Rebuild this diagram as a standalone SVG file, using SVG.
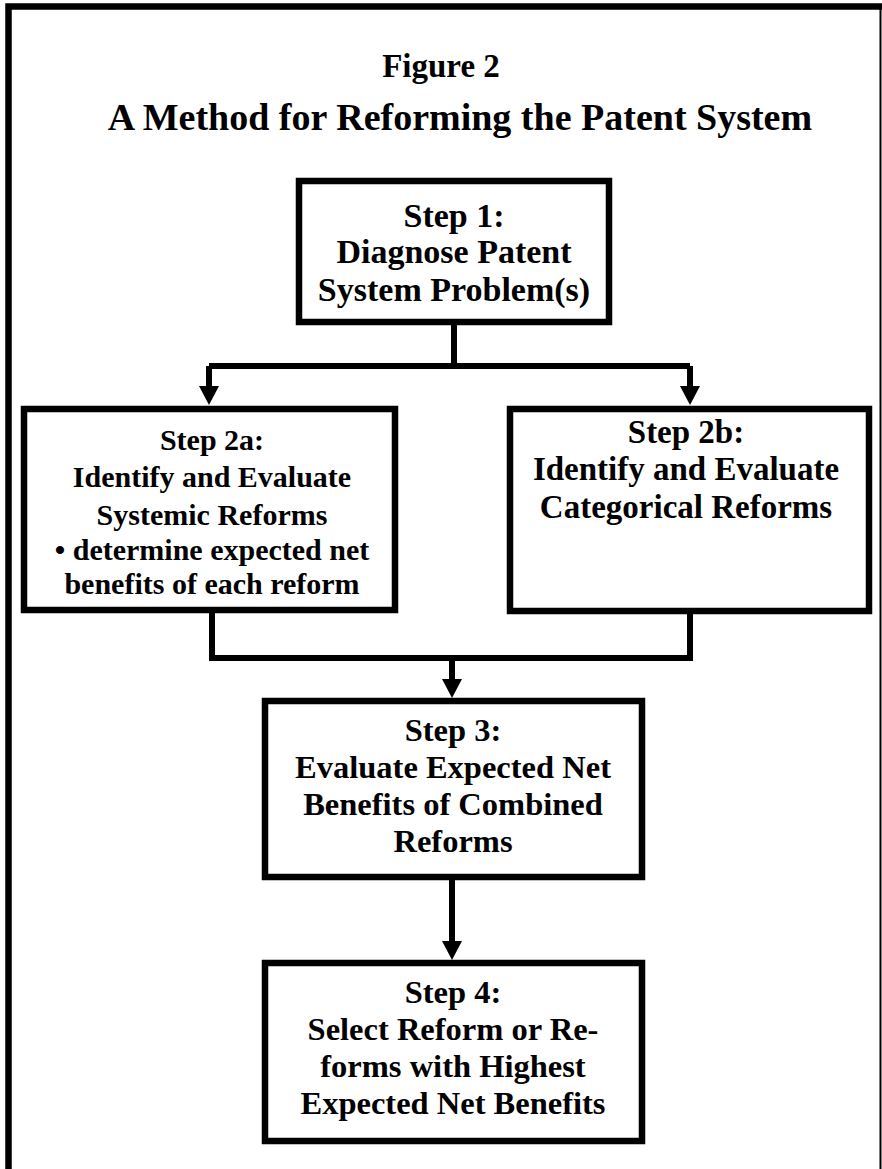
<svg xmlns="http://www.w3.org/2000/svg" width="882" height="1169" viewBox="0 0 882 1169">
<style>
.t{font-family:"Liberation Serif","Times New Roman",serif;font-weight:bold;fill:#000;text-anchor:middle}
.box{fill:#fff;stroke:#000;stroke-width:6.5}
.con{fill:none;stroke:#000;stroke-width:6;stroke-linejoin:miter}
</style>
<defs>
<marker id="ah" markerUnits="userSpaceOnUse" markerWidth="20" markerHeight="19" refX="10" refY="1" orient="0" viewBox="0 0 20 19">
<path d="M0,0 L20,0 L10,19 Z" fill="#000"/>
</marker>
</defs>
<rect x="0" y="0" width="882" height="1169" fill="#fff"/>
<g id="frame">
<path d="M8.5,1169 V6.5 H882" fill="none" stroke="#000" stroke-width="6.5"/>
<line x1="880.5" y1="6" x2="880.5" y2="1169" stroke="#000" stroke-width="2"/>
</g>
<g id="titles">
<text class="t" x="441" y="77" font-size="33">Figure 2</text>
<text class="t" x="460" y="130" font-size="38">A Method for Reforming the Patent System</text>
</g>
<g id="connectors">
<path class="con" d="M454,325 V366"/>
<path class="con" d="M209,366 H690"/>
<path class="con" d="M209,366 V387" marker-end="url(#ah)"/>
<path class="con" d="M690,366 V387" marker-end="url(#ah)"/>
<path class="con" d="M212,613 V658 H690 V613"/>
<path class="con" d="M452,658 V680" marker-end="url(#ah)"/>
<path class="con" d="M452,880 V942" marker-end="url(#ah)"/>
</g>
<g id="step1">
<rect class="box" x="299" y="181" width="310" height="141"/>
<text class="t" font-size="34" x="454" y="227">Step 1:</text>
<text class="t" font-size="34" x="454" y="263">Diagnose Patent</text>
<text class="t" font-size="34" x="454" y="301">System Problem(s)</text>
</g>
<g id="step2a">
<rect class="box" x="24" y="409" width="371" height="201"/>
<text class="t" font-size="30" x="212" y="450">Step 2a:</text>
<text class="t" font-size="30" x="212" y="487">Identify and Evaluate</text>
<text class="t" font-size="30" x="212" y="525">Systemic Reforms</text>
<text class="t" font-size="30" x="212" y="560">• determine expected net</text>
<text class="t" font-size="30" x="212" y="594">benefits of each reform</text>
</g>
<g id="step2b">
<rect class="box" x="510" y="409" width="359" height="202"/>
<text class="t" font-size="33" x="686" y="443">Step 2b:</text>
<text class="t" font-size="33" x="686" y="480">Identify and Evaluate</text>
<text class="t" font-size="33" x="686" y="518">Categorical Reforms</text>
</g>
<g id="step3">
<rect class="box" x="265" y="701" width="377" height="176"/>
<text class="t" font-size="32.5" x="453" y="741">Step 3:</text>
<text class="t" font-size="32.5" x="453" y="778">Evaluate Expected Net</text>
<text class="t" font-size="32.5" x="453" y="815">Benefits of Combined</text>
<text class="t" font-size="32.5" x="453" y="852">Reforms</text>
</g>
<g id="step4">
<rect class="box" x="265" y="963" width="377" height="178"/>
<text class="t" font-size="32.5" x="453" y="1003">Step 4:</text>
<text class="t" font-size="32.5" x="453" y="1040">Select Reform or Re-</text>
<text class="t" font-size="32.5" x="453" y="1077">forms with Highest</text>
<text class="t" font-size="32.5" x="453" y="1114">Expected Net Benefits</text>
</g>
</svg>
